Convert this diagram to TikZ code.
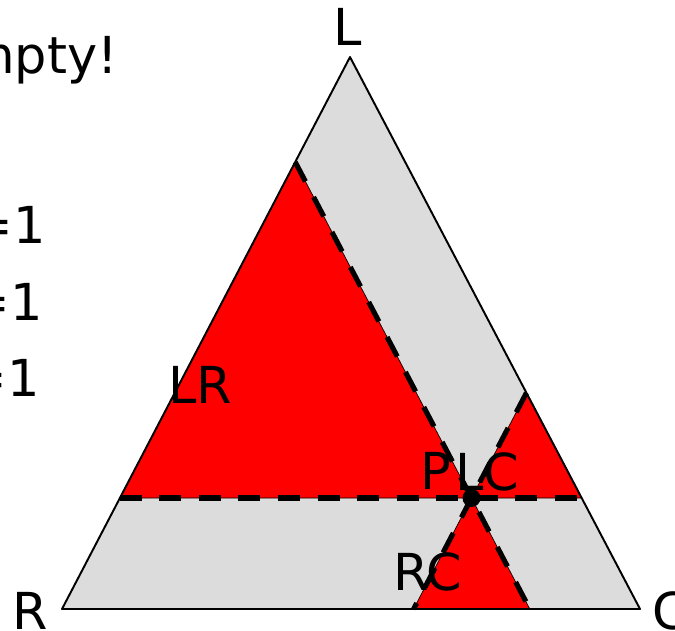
\documentclass[tikz,border=0pt]{standalone}
\usepackage{fontspec}
\setmainfont{DejaVu Sans}
\usetikzlibrary{positioning}
\definecolor{ltgray}{RGB}{220,220,220}
\definecolor{hot}{RGB}{255,0,0}

\begin{document}
\begin{tikzpicture}[x=0.02cm, y=-0.02cm,
    region/.style={fill=hot, draw=black, line width=0.4pt},
    cut/.style={draw=black, line width=2.9pt, dash pattern=on 12.5pt off 10pt},
    lbl/.style={font=\fontsize{29}{34}\selectfont, inner sep=0pt},
  ]
  \useasboundingbox (0,0) rectangle (675,630);
  \clip (0,0) rectangle (675,630);

  % corners of the big triangle
  \coordinate (L) at (350,57);
  \coordinate (R) at (62,609);
  \coordinate (C) at (640,609);
  % cut points
  \coordinate (P)  at (471.5,498);
  \coordinate (a1) at (295.2,162);
  \coordinate (a2) at (529.8,609);
  \coordinate (b1) at (526.4,392.8);
  \coordinate (b2) at (413.6,609);
  \coordinate (h1) at (119.9,498);
  \coordinate (h2) at (581.7,498);

  \fill[ltgray] (L) -- (R) -- (C) -- cycle;
  \path[region] (a1) -- (h1) -- (P) -- cycle;
  \path[region] (b1) -- (P) -- (h2) -- cycle;
  \path[region] (P) -- (b2) -- (a2) -- cycle;
  \draw[line width=1.1pt, line join=round] (L) -- (R) -- (C) -- cycle;

  \draw[cut] (h1) -- (h2);
  \draw[cut] (a1) -- (a2);
  \draw[cut] (b1) -- (b2);
  \fill (P) circle[radius=0.18cm];

  % labels
  \node[lbl] (lL) at (348,27) {L};
  \node[lbl] (lR) at (30,611) {R};
  \node[lbl, anchor=west] (lC) at (652,611) {C};
  \node[lbl] (lLR) at (200,385) {LR};
  \node[lbl] (lP) at (436,471) {P};
  \node[lbl] (lLC) at (487,472) {LC};
  \node[lbl] (lRC) at (428,572) {RC};
  \node[lbl, anchor=base east] (t0) at (118,73) {mpty!};
  \node[lbl, anchor=base east] (t1) at (46,243) {=1};
  \node[lbl, anchor=base east] (t2) at (43,320) {=1};
  \node[lbl, anchor=base east] (t3) at (40,396) {=1};
\end{tikzpicture}
\end{document}
